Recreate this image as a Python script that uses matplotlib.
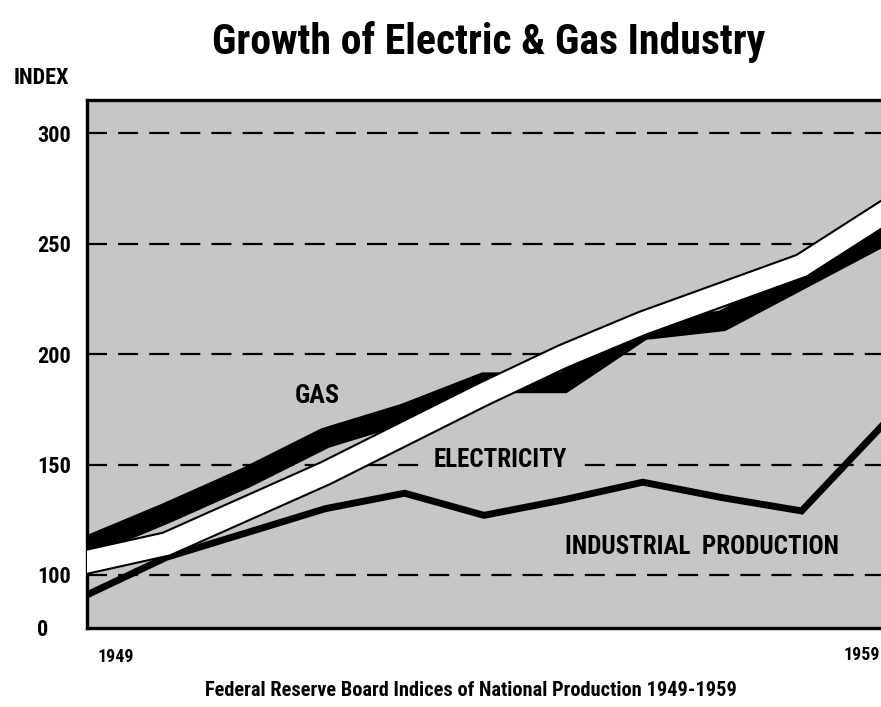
import matplotlib
matplotlib.use("Agg")
import matplotlib.pyplot as plt

# values (index, 1949-1959)
years = list(range(1949, 1960))
gas = [113, 128, 144, 162, 173, 187, 187, 211, 215, 234, 253]
electricity = [106, 114, 130, 146, 164, 182, 199, 214, 227, 240, 263]
industrial = [91, 108, 119, 130, 137, 127, 134, 142, 135, 129, 167]

grid_levels = [100, 150, 200, 250, 300]
ytick_values = [76, 100, 150, 200, 250, 300]
ytick_labels = ["0", "100", "150", "200", "250", "300"]

plt.rcParams["font.family"] = ["Roboto Condensed", "DejaVu Sans Condensed",
                               "Liberation Sans Narrow", "DejaVu Sans"]
plt.rcParams["font.weight"] = "bold"

bg = "#c6c6c6"

fig = plt.figure(figsize=(8.81, 7.07), dpi=100)
ax = fig.add_axes([87 / 881, 79 / 707, 1 - 87 / 881, 528 / 707])
ax.set_facecolor(bg)
ax.set_xlim(1949, 1959)
ax.set_ylim(76, 315)

# dashed reference lines
for lvl in grid_levels:
    ax.axhline(lvl, color="black", lw=1.6, dashes=(9, 5), zorder=1)

# series
ax.plot(years, industrial, color="black", lw=5, zorder=2,
        solid_capstyle="projecting", solid_joinstyle="miter")
ax.plot(years, gas, color="black", lw=15, zorder=3,
        solid_capstyle="projecting", solid_joinstyle="miter")
ax.plot(years, electricity, color="black", lw=18.5, zorder=4,
        solid_capstyle="projecting", solid_joinstyle="miter")
ax.plot(years, electricity, color="white", lw=15.5, zorder=5,
        solid_capstyle="projecting", solid_joinstyle="miter")

# frame
for side in ["left", "top", "bottom"]:
    ax.spines[side].set_linewidth(2.4)
ax.spines["right"].set_visible(False)

ax.set_yticks(ytick_values)
ax.set_yticklabels(ytick_labels, fontsize=16, fontweight="bold", ha="left")
ax.tick_params(axis="y", length=0, pad=36)
ax.set_xticks([])

fitted = []

# series labels
fitted.append((ax.text(1951.9, 181, "GAS", fontsize=20, fontweight="bold",
                       ha="center", va="center", zorder=6), 45))
fitted.append((ax.text(1954.21, 152, "ELECTRICITY", fontsize=20, fontweight="bold",
                       ha="center", va="center", zorder=6,
                       bbox=dict(facecolor=bg, edgecolor="none", pad=6)), 122))
fitted.append((ax.text(1956.75, 112.5, "INDUSTRIAL  PRODUCTION", fontsize=20,
                       fontweight="bold", ha="center", va="center", zorder=6), 275))

# titles and year labels
fitted.append((fig.text(0.555, 0.94, "Growth of Electric & Gas Industry", fontsize=40,
                        fontweight="bold", ha="center", va="center"), 552))
fitted.append((fig.text(0.047, 0.89, "INDEX", fontsize=16, fontweight="bold",
                        ha="center", va="center"), 63))
fig.text(0.132, 0.071, "1949", fontsize=13, fontweight="bold", ha="center", va="center")
fig.text(0.999, 0.074, "1959", fontsize=13, fontweight="bold", ha="right", va="center")
fitted.append((fig.text(0.535, 0.024, "Federal Reserve Board Indices of National Production 1949-1959",
                        fontsize=18, fontweight="bold", ha="center", va="center"), 531))

# shrink each text to the width it takes in the original
fig.canvas.draw()
renderer = fig.canvas.get_renderer()
for t, target in fitted:
    w = t.get_window_extent(renderer).width
    if t.get_bbox_patch() is not None:
        w -= 12
    if w > target:
        t.set_fontsize(t.get_fontsize() * target / w)

fig.savefig("out.png", dpi=100)
